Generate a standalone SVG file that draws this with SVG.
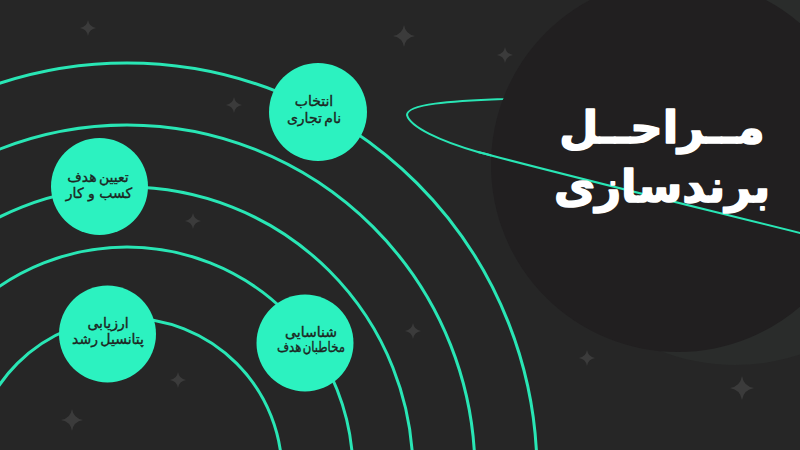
<svg xmlns="http://www.w3.org/2000/svg" xmlns:xlink="http://www.w3.org/1999/xlink" width="800" height="450" viewBox="0 0 800 450">
  <defs>
    <style>
      .orbit { fill: none; stroke: #29e6b5; stroke-width: 3; }
      .ring { fill: none; stroke: #29e6b5; stroke-width: 2; }
      .node circle { fill: #2cf2c0; }
      .node text { font-family: "DejaVu Sans", sans-serif; font-size: 14px; fill: #1d2522; stroke: #1d2522; stroke-width: 0.35; text-anchor: middle; direction: rtl; }
      .title { font-family: "DejaVu Sans", sans-serif; font-weight: bold; font-size: 45px; fill: #ffffff; stroke: #ffffff; stroke-width: 1.6; stroke-linejoin: round; text-anchor: middle; direction: rtl; }
      .star { fill: #3b3b3b; }
    </style>
    <path id="star" d="M0,-1 Q0.14,-0.14 1,0 Q0.14,0.14 0,1 Q-0.14,0.14 -1,0 Q-0.14,-0.14 0,-1 Z"/>
  </defs>

  <rect x="0" y="0" width="800" height="450" fill="#262626"/>
  <circle cx="735" cy="160" r="205" fill="#2a2c2b"/>

  <g id="stars" class="star">
    <use xlink:href="#star" transform="translate(88,28) scale(8)"/>
    <use xlink:href="#star" transform="translate(234,105) scale(8)"/>
    <use xlink:href="#star" transform="translate(193,221) scale(8)"/>
    <use xlink:href="#star" transform="translate(404,36) scale(11)"/>
    <use xlink:href="#star" transform="translate(505,55) scale(8)"/>
    <use xlink:href="#star" transform="translate(178,380) scale(8)"/>
    <use xlink:href="#star" transform="translate(72,420) scale(11)"/>
    <use xlink:href="#star" transform="translate(413,331) scale(8)"/>
    <use xlink:href="#star" transform="translate(587,358) scale(8)"/>
    <use xlink:href="#star" transform="translate(742,388) scale(12)"/>
  </g>

  <g id="connectors">
    <circle class="orbit" cx="127" cy="473" r="155"/>
    <circle class="orbit" cx="127" cy="473" r="226"/>
    <circle class="orbit" cx="127" cy="473" r="286"/>
    <circle class="orbit" cx="127" cy="473" r="348"/>
    <circle class="orbit" cx="127" cy="473" r="410"/>
  </g>

  <g id="node-brand-name" class="node">
    <circle cx="318" cy="112" r="49"/>
    <text x="314" y="106">انتخاب</text>
    <text x="314" y="123" word-spacing="-2">نام تجاری</text>
  </g>
  <g id="node-business-goal" class="node">
    <circle cx="99.5" cy="186.5" r="48.5"/>
    <text x="98" y="182" word-spacing="-2">تعیین هدف</text>
    <text x="99" y="198">کسب و کار</text>
  </g>
  <g id="node-growth" class="node">
    <circle cx="107.5" cy="334" r="48.5"/>
    <text x="108" y="328">ارزیابی</text>
    <text x="108" y="344" word-spacing="-2">پتانسیل رشد</text>
  </g>
  <g id="node-audience" class="node">
    <circle cx="305" cy="343" r="48.5"/>
    <text x="311" y="337">شناسایی</text>
    <text x="311" y="352" word-spacing="-3" textLength="68" lengthAdjust="spacingAndGlyphs">مخاطبان هدف</text>
  </g>

  <path class="ring" d="M 600 96 C 560 96, 530 97, 503 99 C 450 101, 407 104, 407 115 C 410 127, 440 141, 478 152 C 560 174, 700 208, 820 238"/>
  <g id="planet">
    <circle cx="678" cy="165" r="187" fill="#211f20"/>
  </g>
  <path class="ring" d="M 478 152 C 560 174, 700 208, 820 238"/>

  <g id="title">
    <text class="title" x="662" y="143">مــراحــل</text>
    <text class="title" x="662" y="202">برندسازی</text>
  </g>
</svg>
